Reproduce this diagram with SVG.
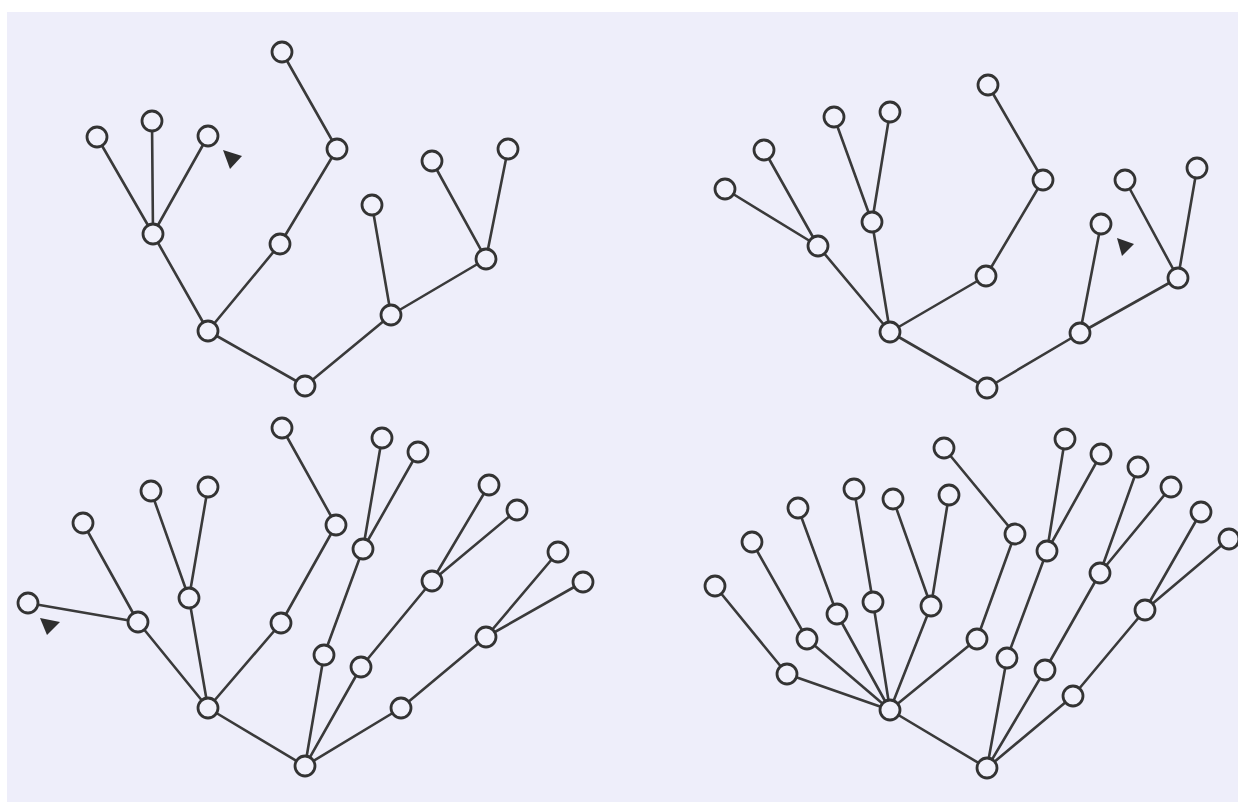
<svg xmlns="http://www.w3.org/2000/svg" width="1238" height="802" viewBox="0 0 1238 802">
<style>
.e line{stroke:#3a3a3a;stroke-width:2.6;stroke-linecap:round}
.n circle{fill:#f1f1fb;stroke:#333;stroke-width:2.8}
.m{fill:#2e2e2e}
</style>
<rect x="0" y="0" width="1238" height="802" fill="#ffffff"/>
<rect x="7" y="12" width="1231" height="790" fill="#eeeefa"/>
<g id="connectors" class="e">
<line x1="282" y1="52" x2="337" y2="149"/>
<line x1="337" y1="149" x2="280" y2="244"/>
<line x1="280" y1="244" x2="208" y2="331"/>
<line x1="208" y1="331" x2="153" y2="234"/>
<line x1="153" y1="234" x2="97" y2="137"/>
<line x1="153" y1="234" x2="152" y2="121"/>
<line x1="153" y1="234" x2="208" y2="136"/>
<line x1="208" y1="331" x2="305" y2="386"/>
<line x1="305" y1="386" x2="391" y2="315"/>
<line x1="391" y1="315" x2="372" y2="205"/>
<line x1="391" y1="315" x2="486" y2="259"/>
<line x1="486" y1="259" x2="432" y2="161"/>
<line x1="486" y1="259" x2="508" y2="149"/>
<line x1="988" y1="85" x2="1043" y2="180"/>
<line x1="1043" y1="180" x2="986" y2="276"/>
<line x1="986" y1="276" x2="890" y2="332"/>
<line x1="890" y1="332" x2="818" y2="246"/>
<line x1="818" y1="246" x2="725" y2="189"/>
<line x1="818" y1="246" x2="764" y2="150"/>
<line x1="890" y1="332" x2="872" y2="222"/>
<line x1="872" y1="222" x2="834" y2="117"/>
<line x1="872" y1="222" x2="890" y2="112"/>
<line x1="890" y1="332" x2="987" y2="388"/>
<line x1="987" y1="388" x2="1080" y2="333"/>
<line x1="1080" y1="333" x2="1101" y2="224"/>
<line x1="1080" y1="333" x2="1178" y2="278"/>
<line x1="1178" y1="278" x2="1125" y2="180"/>
<line x1="1178" y1="278" x2="1197" y2="168"/>
<line x1="208" y1="708" x2="305" y2="766"/>
<line x1="208" y1="708" x2="138" y2="622"/>
<line x1="138" y1="622" x2="83" y2="523"/>
<line x1="138" y1="622" x2="28" y2="603"/>
<line x1="208" y1="708" x2="189" y2="598"/>
<line x1="189" y1="598" x2="151" y2="491"/>
<line x1="189" y1="598" x2="208" y2="487"/>
<line x1="208" y1="708" x2="281" y2="623"/>
<line x1="281" y1="623" x2="336" y2="525"/>
<line x1="336" y1="525" x2="282" y2="428"/>
<line x1="305" y1="766" x2="324" y2="655"/>
<line x1="324" y1="655" x2="363" y2="549"/>
<line x1="363" y1="549" x2="382" y2="438"/>
<line x1="363" y1="549" x2="418" y2="452"/>
<line x1="305" y1="766" x2="361" y2="667"/>
<line x1="361" y1="667" x2="432" y2="581"/>
<line x1="432" y1="581" x2="489" y2="485"/>
<line x1="432" y1="581" x2="517" y2="510"/>
<line x1="305" y1="766" x2="401" y2="708"/>
<line x1="401" y1="708" x2="486" y2="637"/>
<line x1="486" y1="637" x2="558" y2="552"/>
<line x1="486" y1="637" x2="583" y2="582"/>
<line x1="890" y1="710" x2="987" y2="768"/>
<line x1="890" y1="710" x2="787" y2="674"/>
<line x1="787" y1="674" x2="715" y2="586"/>
<line x1="890" y1="710" x2="807" y2="639"/>
<line x1="807" y1="639" x2="752" y2="542"/>
<line x1="890" y1="710" x2="837" y2="614"/>
<line x1="837" y1="614" x2="798" y2="508"/>
<line x1="890" y1="710" x2="873" y2="602"/>
<line x1="873" y1="602" x2="854" y2="489"/>
<line x1="890" y1="710" x2="931" y2="606"/>
<line x1="931" y1="606" x2="893" y2="499"/>
<line x1="931" y1="606" x2="949" y2="495"/>
<line x1="890" y1="710" x2="977" y2="639"/>
<line x1="977" y1="639" x2="1015" y2="534"/>
<line x1="1015" y1="534" x2="944" y2="448"/>
<line x1="987" y1="768" x2="1007" y2="658"/>
<line x1="1007" y1="658" x2="1047" y2="551"/>
<line x1="1047" y1="551" x2="1065" y2="439"/>
<line x1="1047" y1="551" x2="1101" y2="454"/>
<line x1="987" y1="768" x2="1045" y2="670"/>
<line x1="1045" y1="670" x2="1100" y2="573"/>
<line x1="1100" y1="573" x2="1138" y2="467"/>
<line x1="1100" y1="573" x2="1171" y2="487"/>
<line x1="987" y1="768" x2="1073" y2="696"/>
<line x1="1073" y1="696" x2="1145" y2="610"/>
<line x1="1145" y1="610" x2="1201" y2="512"/>
<line x1="1145" y1="610" x2="1229" y2="539"/>
</g>
<g id="tree1" class="n">
<g id="t1n1"><circle cx="282" cy="52" r="10"/></g>
<g id="t1n2"><circle cx="337" cy="149" r="10"/></g>
<g id="t1n3"><circle cx="280" cy="244" r="10"/></g>
<g id="t1n4"><circle cx="208" cy="331" r="10"/></g>
<g id="t1n5"><circle cx="153" cy="234" r="10"/></g>
<g id="t1n6"><circle cx="97" cy="137" r="10"/></g>
<g id="t1n7"><circle cx="152" cy="121" r="10"/></g>
<g id="t1n8"><circle cx="208" cy="136" r="10"/></g>
<g id="t1n9"><circle cx="305" cy="386" r="10"/></g>
<g id="t1n10"><circle cx="391" cy="315" r="10"/></g>
<g id="t1n11"><circle cx="372" cy="205" r="10"/></g>
<g id="t1n12"><circle cx="486" cy="259" r="10"/></g>
<g id="t1n13"><circle cx="432" cy="161" r="10"/></g>
<g id="t1n14"><circle cx="508" cy="149" r="10"/></g>
</g>
<g id="tree2" class="n">
<g id="t2n1"><circle cx="988" cy="85" r="10"/></g>
<g id="t2n2"><circle cx="1043" cy="180" r="10"/></g>
<g id="t2n3"><circle cx="986" cy="276" r="10"/></g>
<g id="t2n4"><circle cx="890" cy="332" r="10"/></g>
<g id="t2n5"><circle cx="818" cy="246" r="10"/></g>
<g id="t2n6"><circle cx="725" cy="189" r="10"/></g>
<g id="t2n7"><circle cx="764" cy="150" r="10"/></g>
<g id="t2n8"><circle cx="872" cy="222" r="10"/></g>
<g id="t2n9"><circle cx="834" cy="117" r="10"/></g>
<g id="t2n10"><circle cx="890" cy="112" r="10"/></g>
<g id="t2n11"><circle cx="987" cy="388" r="10"/></g>
<g id="t2n12"><circle cx="1080" cy="333" r="10"/></g>
<g id="t2n13"><circle cx="1101" cy="224" r="10"/></g>
<g id="t2n14"><circle cx="1178" cy="278" r="10"/></g>
<g id="t2n15"><circle cx="1125" cy="180" r="10"/></g>
<g id="t2n16"><circle cx="1197" cy="168" r="10"/></g>
</g>
<g id="tree3" class="n">
<g id="t3n1"><circle cx="305" cy="766" r="10"/></g>
<g id="t3n2"><circle cx="208" cy="708" r="10"/></g>
<g id="t3n3"><circle cx="138" cy="622" r="10"/></g>
<g id="t3n4"><circle cx="83" cy="523" r="10"/></g>
<g id="t3n5"><circle cx="28" cy="603" r="10"/></g>
<g id="t3n6"><circle cx="189" cy="598" r="10"/></g>
<g id="t3n7"><circle cx="151" cy="491" r="10"/></g>
<g id="t3n8"><circle cx="208" cy="487" r="10"/></g>
<g id="t3n9"><circle cx="281" cy="623" r="10"/></g>
<g id="t3n10"><circle cx="336" cy="525" r="10"/></g>
<g id="t3n11"><circle cx="282" cy="428" r="10"/></g>
<g id="t3n12"><circle cx="324" cy="655" r="10"/></g>
<g id="t3n13"><circle cx="363" cy="549" r="10"/></g>
<g id="t3n14"><circle cx="382" cy="438" r="10"/></g>
<g id="t3n15"><circle cx="418" cy="452" r="10"/></g>
<g id="t3n16"><circle cx="361" cy="667" r="10"/></g>
<g id="t3n17"><circle cx="432" cy="581" r="10"/></g>
<g id="t3n18"><circle cx="489" cy="485" r="10"/></g>
<g id="t3n19"><circle cx="517" cy="510" r="10"/></g>
<g id="t3n20"><circle cx="401" cy="708" r="10"/></g>
<g id="t3n21"><circle cx="486" cy="637" r="10"/></g>
<g id="t3n22"><circle cx="558" cy="552" r="10"/></g>
<g id="t3n23"><circle cx="583" cy="582" r="10"/></g>
</g>
<g id="tree4" class="n">
<g id="t4n1"><circle cx="987" cy="768" r="10"/></g>
<g id="t4n2"><circle cx="890" cy="710" r="10"/></g>
<g id="t4n3"><circle cx="787" cy="674" r="10"/></g>
<g id="t4n4"><circle cx="715" cy="586" r="10"/></g>
<g id="t4n5"><circle cx="807" cy="639" r="10"/></g>
<g id="t4n6"><circle cx="752" cy="542" r="10"/></g>
<g id="t4n7"><circle cx="837" cy="614" r="10"/></g>
<g id="t4n8"><circle cx="798" cy="508" r="10"/></g>
<g id="t4n9"><circle cx="873" cy="602" r="10"/></g>
<g id="t4n10"><circle cx="854" cy="489" r="10"/></g>
<g id="t4n11"><circle cx="931" cy="606" r="10"/></g>
<g id="t4n12"><circle cx="893" cy="499" r="10"/></g>
<g id="t4n13"><circle cx="949" cy="495" r="10"/></g>
<g id="t4n14"><circle cx="977" cy="639" r="10"/></g>
<g id="t4n15"><circle cx="1015" cy="534" r="10"/></g>
<g id="t4n16"><circle cx="944" cy="448" r="10"/></g>
<g id="t4n17"><circle cx="1007" cy="658" r="10"/></g>
<g id="t4n18"><circle cx="1047" cy="551" r="10"/></g>
<g id="t4n19"><circle cx="1065" cy="439" r="10"/></g>
<g id="t4n20"><circle cx="1101" cy="454" r="10"/></g>
<g id="t4n21"><circle cx="1045" cy="670" r="10"/></g>
<g id="t4n22"><circle cx="1100" cy="573" r="10"/></g>
<g id="t4n23"><circle cx="1138" cy="467" r="10"/></g>
<g id="t4n24"><circle cx="1171" cy="487" r="10"/></g>
<g id="t4n25"><circle cx="1073" cy="696" r="10"/></g>
<g id="t4n26"><circle cx="1145" cy="610" r="10"/></g>
<g id="t4n27"><circle cx="1201" cy="512" r="10"/></g>
<g id="t4n28"><circle cx="1229" cy="539" r="10"/></g>
</g>
<g id="markers">
<polygon class="m" points="223,150 242,156 230,169"/>
<polygon class="m" points="1117,238 1134,244 1122,256"/>
<polygon class="m" points="40,618 60,622 47,635"/>
</g>
</svg>
